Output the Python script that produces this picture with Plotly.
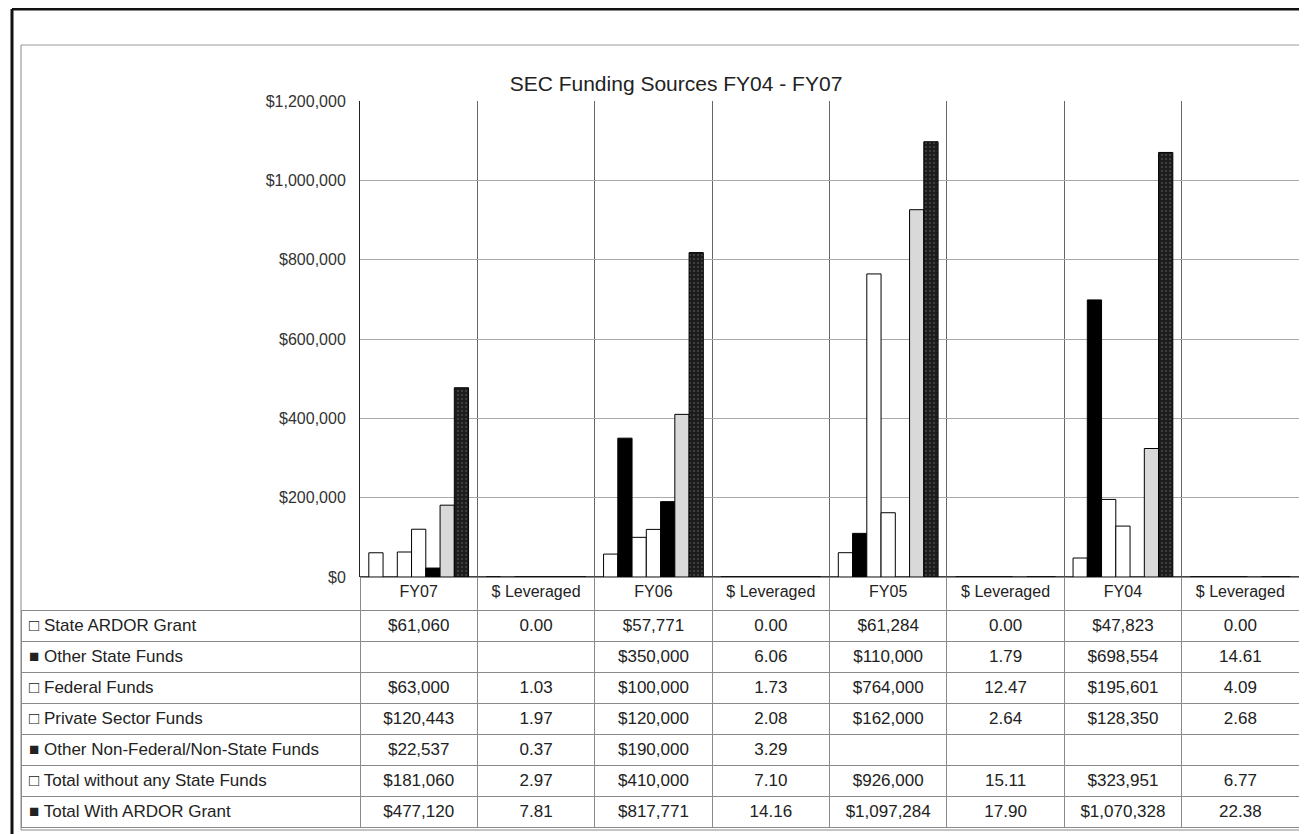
import plotly.graph_objects as go

# chart data
years = ["FY07", "FY06", "FY05", "FY04"]
lev_label = "$ Leveraged"

series_names = [
    "State ARDOR Grant",
    "Other State Funds",
    "Federal Funds",
    "Private Sector Funds",
    "Other Non-Federal/Non-State Funds",
    "Total without any State Funds",
    "Total With ARDOR Grant",
]

# one list per series: FY07, lev, FY06, lev, FY05, lev, FY04, lev
state_ardor = [61060, 0.00, 57771, 0.00, 61284, 0.00, 47823, 0.00]
other_state = [None, None, 350000, 6.06, 110000, 1.79, 698554, 14.61]
federal = [63000, 1.03, 100000, 1.73, 764000, 12.47, 195601, 4.09]
private_sector = [120443, 1.97, 120000, 2.08, 162000, 2.64, 128350, 2.68]
other_non_fed = [22537, 0.37, 190000, 3.29, None, None, None, None]
total_without_state = [181060, 2.97, 410000, 7.10, 926000, 15.11, 323951, 6.77]
total_with_ardor = [477120, 7.81, 817771, 14.16, 1097284, 17.90, 1070328, 22.38]

all_series = [state_ardor, other_state, federal, private_sector,
              other_non_fed, total_without_state, total_with_ardor]

W, H = 1307, 834
OFF = 8  # page body margin, positions below are in screenshot pixels
FONT = "Liberation Sans Narrow, Arial Narrow, Liberation Sans, Arial, sans-serif"


def px(x):
    return (x - OFF) / W


def py(y):
    return 1 - (y - OFF) / H


# column headers and unique category keys for the x axis
col_labels = []
col_keys = []
for y in years:
    col_labels += [y, lev_label]
    col_keys += [y, y + " " + lev_label]
is_lev = [lab == lev_label for lab in col_labels]

fills = ["white", "black", "white", "white", "black", "#d9d9d9", "#1c1c1c"]
keys_glyph = ["\u25a1", "\u25a0", "\u25a1", "\u25a1", "\u25a0", "\u25a1", "\u25a0"]

fig = go.Figure()

for name, vals, fc in zip(series_names, all_series, fills):
    marker = dict(color=fc, line=dict(color="black", width=1))
    if name == "Total With ARDOR Grant":
        marker["pattern"] = dict(shape=".", fgcolor="#7a7a7a", size=4, solidity=0.2)
    fig.add_trace(go.Bar(x=col_keys, y=vals, name=name, marker=marker,
                         showlegend=False, hoverinfo="skip"))


def fmt(v, lev):
    if v is None:
        return ""
    return f"{v:.2f}" if lev else f"${v:,.0f}"


row_labels = [g + " " + n for g, n in zip(keys_glyph, series_names)]
table_cols = [row_labels]
for ci in range(len(col_keys)):
    table_cols.append([fmt(s[ci], is_lev[ci]) for s in all_series])

PLOT_L, PLOT_R = 360, 1299
PLOT_T, PLOT_B = 101, 577
TABLE_L = 21
label_w = PLOT_L - TABLE_L
col_w = (PLOT_R - PLOT_L) / len(col_keys)

line_cols = ["#8a8a8a"] * (len(col_keys) + 1)
fig.add_trace(go.Table(
    domain=dict(x=[px(TABLE_L), px(PLOT_R)], y=[0, py(PLOT_B)]),
    columnwidth=[label_w] + [col_w] * len(col_keys),
    header=dict(
        values=[""] + col_labels,
        height=33,
        fill_color="rgba(0,0,0,0)",
        line=dict(color=["rgba(0,0,0,0)"] + line_cols[1:], width=1),
        align="center",
        font=dict(family=FONT, size=16, color="#222"),
    ),
    cells=dict(
        values=table_cols,
        height=31,
        fill_color="white",
        line=dict(color=line_cols, width=1),
        align=["left"] + ["center"] * len(col_keys),
        font=dict(family=FONT, size=17, color="#222"),
    ),
))

fig.update_layout(
    width=W, height=H,
    margin=dict(l=0, r=0, t=0, b=0, pad=0, autoexpand=False),
    paper_bgcolor="white",
    plot_bgcolor="white",
    barmode="group",
    bargap=0.15,
    bargroupgap=0,
    title=dict(text="SEC Funding Sources FY04 - FY07", x=px(676), y=py(84),
               xanchor="center", yanchor="middle",
               font=dict(family=FONT, size=21, color="#222")),
    font=dict(family=FONT, color="#222"),
)

fig.update_xaxes(
    domain=[px(PLOT_L), px(PLOT_R)],
    categoryorder="array", categoryarray=col_keys,
    tickson="boundaries",
    showticklabels=False,
    showgrid=True, gridcolor="#666", gridwidth=1,
    showline=False, zeroline=False,
)
fig.update_yaxes(
    domain=[py(PLOT_B), py(PLOT_T)],
    range=[0, 1200000], dtick=200000,
    tickprefix="$", tickformat=",.0f",
    tickfont=dict(family=FONT, size=16, color="#333"),
    ticks="", ticklabelstandoff=10,
    showgrid=True, gridcolor="#aaaaaa", gridwidth=1,
    showline=True, linecolor="#222", linewidth=1,
    zeroline=True, zerolinecolor="#444",
)

# scanned page frame, in screenshot pixels
frame = [
    dict(x0=12, y0=9, x1=W + OFF, y1=9, color="#111", width=3),
    dict(x0=12, y0=9, x1=12, y1=H + OFF, color="#111", width=3),
    dict(x0=TABLE_L, y0=45, x1=1304, y1=45, color="#9a9a9a", width=1),
    dict(x0=TABLE_L, y0=45, x1=TABLE_L, y1=830, color="#8a8a8a", width=1),
    dict(x0=1304, y0=45, x1=1304, y1=830, color="#111", width=3),
    dict(x0=TABLE_L, y0=830, x1=1304, y1=830, color="#8a8a8a", width=1),
]
for f in frame:
    fig.add_shape(type="line", xref="paper", yref="paper",
                  x0=px(f["x0"]), x1=px(f["x1"]),
                  y0=py(f["y0"]), y1=py(f["y1"]),
                  line=dict(color=f["color"], width=f["width"]))

fig.write_html("out.html")
